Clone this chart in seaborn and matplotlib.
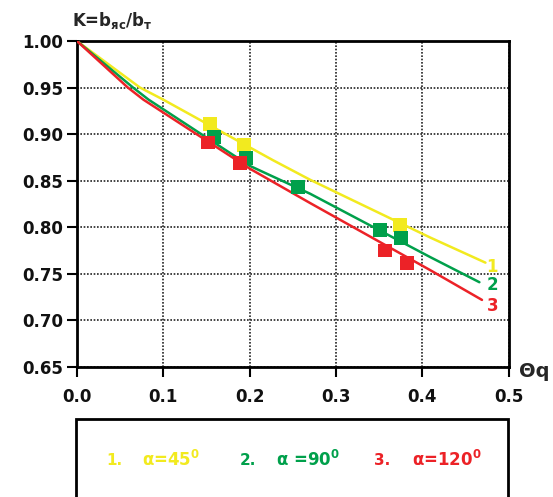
import numpy as np
import pandas as pd
import matplotlib
matplotlib.use("Agg")
import matplotlib.pyplot as plt
from matplotlib.patches import Rectangle
import seaborn as sns

# curve data
yellow_x = [0.0, 0.073, 0.1, 0.227, 0.27, 0.409, 0.473]
yellow_y = [1.0, 0.950, 0.937, 0.872, 0.851, 0.789, 0.762]
green_x = [0.0, 0.065, 0.083, 0.2, 0.27, 0.409, 0.466]
green_y = [1.0, 0.950, 0.937, 0.866, 0.836, 0.768, 0.741]
red_x = [0.0, 0.059, 0.077, 0.2, 0.27, 0.409, 0.469]
red_y = [1.0, 0.950, 0.937, 0.863, 0.826, 0.754, 0.722]

# measured points (squares)
yellow_px = [0.154, 0.194, 0.374]
yellow_py = [0.911, 0.888, 0.802]
green_px = [0.159, 0.196, 0.256, 0.351, 0.375]
green_py = [0.897, 0.874, 0.843, 0.797, 0.788]
red_px = [0.152, 0.189, 0.357, 0.382]
red_py = [0.891, 0.869, 0.775, 0.762]

curve_labels = ["1", "2", "3"]
label_y = [0.757, 0.738, 0.716]
legend_labels = ["α=45", "α =90", "α=120"]
x_ticks = [0.0, 0.1, 0.2, 0.3, 0.4, 0.5]
y_ticks = [0.65, 0.70, 0.75, 0.80, 0.85, 0.90, 0.95, 1.00]

YEL, GRN, RED = "#f2ea1f", "#00a04b", "#ec2227"

sns.set_theme(style="white")
plt.rcParams['font.family'] = ['DejaVu Sans']
plt.rcParams['mathtext.fontset'] = 'dejavusans'

fig = plt.figure(figsize=(5.53, 4.97), dpi=100)
ax = fig.add_axes([0.139, 0.2616, 0.781, 0.656])

lines = pd.concat([
    pd.DataFrame({"x": yellow_x, "y": yellow_y, "c": "1"}),
    pd.DataFrame({"x": green_x, "y": green_y, "c": "2"}),
    pd.DataFrame({"x": red_x, "y": red_y, "c": "3"}),
])
pts = pd.concat([
    pd.DataFrame({"x": yellow_px, "y": yellow_py, "c": "1"}),
    pd.DataFrame({"x": green_px, "y": green_py, "c": "2"}),
    pd.DataFrame({"x": red_px, "y": red_py, "c": "3"}),
])
pal = {"1": YEL, "2": GRN, "3": RED}

sns.lineplot(data=lines, x="x", y="y", hue="c", palette=pal, lw=1.8,
             sort=False, estimator=None, legend=False, ax=ax, zorder=3)
sns.scatterplot(data=pts, x="x", y="y", hue="c", palette=pal, marker="s",
                s=100, edgecolor="none", legend=False, ax=ax, zorder=4)

ax.set_xlim(0, 0.5)
ax.set_ylim(0.65, 1.0)
ax.set_xticks(x_ticks)
ax.set_yticks(y_ticks)
ax.set_xticklabels([f"{v:.1f}" for v in x_ticks], fontsize=12, fontweight="bold")
ax.set_yticklabels([f"{v:.2f}" for v in y_ticks], fontsize=12, fontweight="bold")
ax.tick_params(axis="both", direction="out", length=7, width=1.5, color="black",
               bottom=True, left=True, labelcolor="#111111")
ax.tick_params(axis="x", pad=8)
ax.tick_params(axis="y", pad=3)
ax.grid(True, linestyle=(0, (1, 1)), color="#222222", linewidth=1.2)
for sp in ax.spines.values():
    sp.set_visible(True)
    sp.set_color("black")
    sp.set_linewidth(2)
ax.set_xlabel("")
ax.set_ylabel("")

# end-of-curve numbers
for lbl, ly, col in zip(curve_labels, label_y, [YEL, GRN, RED]):
    ax.text(0.481, ly, lbl, color=col, fontsize=12,
            fontweight="bold", ha="center", va="center")

# axis captions
fig.text(0.130, 0.958, r"K=b$_{\mathbf{яс}}$/b$_{\mathbf{т}}$", fontsize=12,
         fontweight="bold", ha="left", va="center")
fig.text(0.938, 0.252, "Θq", fontsize=14, fontweight="bold", ha="left", va="center")

# legend box below the plot
fig.patches.append(Rectangle((0.138, -0.05), 0.780, 0.207, transform=fig.transFigure,
                             fill=False, edgecolor="black", linewidth=2))
entries = [("1.", 0.192, 0.257, YEL), ("2.", 0.433, 0.500, GRN), ("3.", 0.677, 0.745, RED)]
for (num, xn, xa, col), lab in zip(entries, legend_labels):
    fig.text(xn, 0.074, num, color=col, fontsize=11, fontweight="bold", va="center")
    fig.text(xa, 0.074, lab + r"$^{\mathbf{0}}$", color=col, fontsize=12,
             fontweight="bold", va="center")

plt.savefig("out.png", dpi=100, facecolor="white")
